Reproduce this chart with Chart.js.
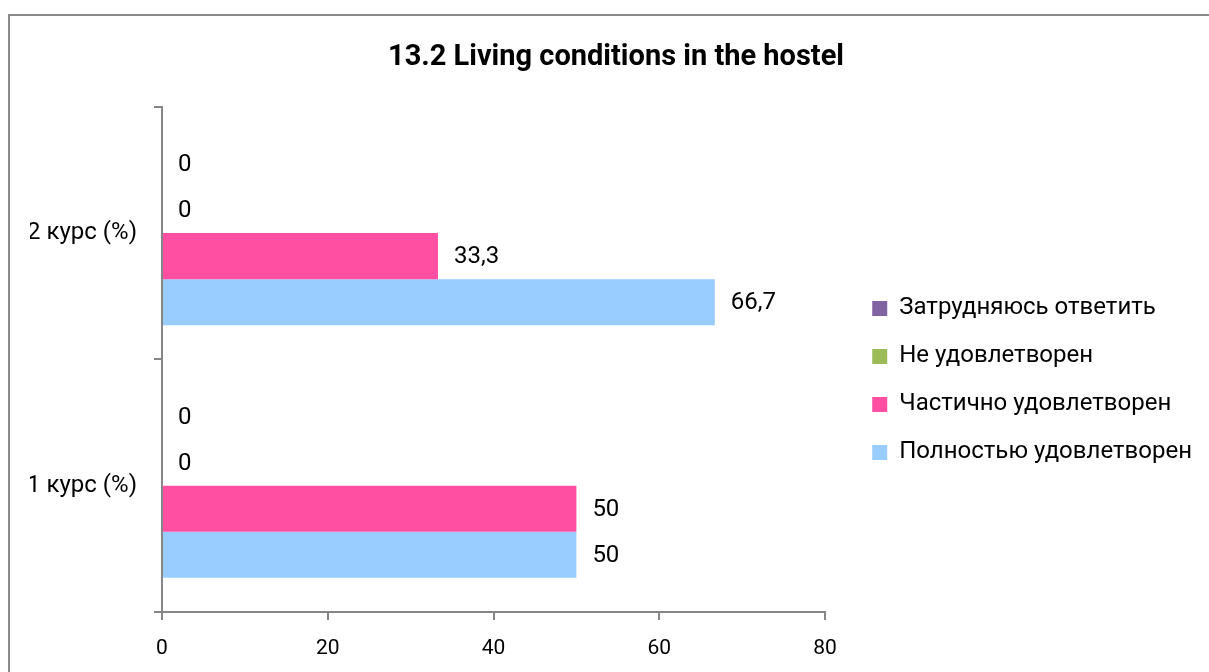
<!DOCTYPE html>
<html>
<head>
<meta charset="utf-8">
<title>13.2 Living conditions in the hostel</title>
<script src="https://cdn.jsdelivr.net/npm/chart.js@4.4.0/dist/chart.umd.min.js"></script>
<style>
    html, body { margin: 0; padding: 0; background: #ffffff; overflow: hidden; }
    #frame {
        position: absolute;
        left: 8px;
        top: 14px;
        width: 1220px;
        height: 680px;
        border-left: 2px solid #8a8a8a;
        border-top: 2px solid #8a8a8a;
    }
    #chartBox { position: absolute; left: 0; top: 0; width: 1199px; height: 656px; }
</style>
</head>
<body>
<div id="frame">
    <div id="chartBox"><canvas id="hostelChart"></canvas></div>
</div>
<script>
// Data
const categories = ['2 курс (%)', '1 курс (%)'];
const seriesNames = ['Затрудняюсь ответить', 'Не удовлетворен', 'Частично удовлетворен', 'Полностью удовлетворен'];
const hardToSay = [0, 0];
const notSatisfied = [0, 0];
const partlySatisfied = [33.3, 50];
const fullySatisfied = [66.7, 50];
const xTicks = [0, 20, 40, 60, 80];

// Colors
const PURPLE = '#8064a2';
const GREEN = '#9bbb59';
const PINK = '#ff4fa3';
const BLUE = '#99ccff';
const AXIS_GRAY = '#868686';
const FONT = 'Roboto';
const TEXT_SIZE = 24;

// Layout numbers
const PAD_RIGHT = 7;
const LEGEND_PAD = 24;
const LEGEND_BOX = 15;
const PLOT_RIGHT = 815;

// Draws the value next to the end of each bar (decimal comma)
const valueLabels = {
    id: 'valueLabels',
    afterDatasetsDraw(chart) {
        const ctx = chart.ctx;
        ctx.save();
        ctx.font = `${TEXT_SIZE}px ${FONT}`;
        ctx.fillStyle = '#000000';
        ctx.textAlign = 'left';
        ctx.textBaseline = 'middle';
        chart.data.datasets.forEach((ds, i) => {
            const meta = chart.getDatasetMeta(i);
            meta.data.forEach((bar, j) => {
                const text = String(ds.data[j]).replace('.', ',');
                ctx.fillText(text, bar.x + 16, bar.y + 1);
            });
        });
        ctx.restore();
    }
};

// Width of the empty space between the plot and the legend
function gapWidth(scale) {
    const ctx = scale.ctx;
    ctx.save();
    ctx.font = `${TEXT_SIZE}px ${FONT}`;
    const textW = Math.max(...seriesNames.map(n => ctx.measureText(n).width));
    ctx.restore();
    const legendW = LEGEND_PAD + LEGEND_BOX + TEXT_SIZE / 2 + textW + 10;
    return Math.max(0, scale.chart.width - PAD_RIGHT - legendW - PLOT_RIGHT);
}

function createChart() {
    const ctx = document.getElementById('hostelChart').getContext('2d');
    const values = [hardToSay, notSatisfied, partlySatisfied, fullySatisfied];
    const colors = [PURPLE, GREEN, PINK, BLUE];

    return new Chart(ctx, {
        type: 'bar',
        data: {
            labels: categories,
            datasets: seriesNames.map((name, i) => ({
                label: name,
                data: values[i],
                backgroundColor: colors[i],
                borderWidth: 0,
                yAxisID: 'y',
                categoryPercentage: 0.729,
                barPercentage: 1.0
            }))
        },
        options: {
            indexAxis: 'y',
            responsive: true,
            maintainAspectRatio: false,
            animation: false,
            layout: {
                padding: { left: 20, right: PAD_RIGHT, top: 0, bottom: 0 }
            },
            plugins: {
                title: {
                    display: true,
                    text: '13.2 Living conditions in the hostel',
                    color: '#000000',
                    font: { family: FONT, size: 29, weight: 'bold' },
                    padding: { top: 24, bottom: 32 }
                },
                legend: {
                    position: 'right',
                    align: 'center',
                    fullSize: false,
                    maxWidth: 500,
                    title: {
                        display: true,
                        text: '',
                        font: { size: 10 },
                        padding: { top: 30, bottom: 0 }
                    },
                    labels: {
                        boxWidth: LEGEND_BOX,
                        boxHeight: LEGEND_BOX,
                        padding: LEGEND_PAD,
                        color: '#000000',
                        font: { family: FONT, size: TEXT_SIZE }
                    }
                },
                tooltip: { enabled: false }
            },
            scales: {
                y: {
                    position: 'left',
                    offset: true,
                    grid: {
                        offset: true,
                        drawOnChartArea: false,
                        drawTicks: true,
                        tickLength: 8,
                        color: AXIS_GRAY,
                        lineWidth: 2
                    },
                    border: { color: AXIS_GRAY, width: 2 },
                    ticks: {
                        color: '#000000',
                        padding: 17,
                        font: { family: FONT, size: TEXT_SIZE }
                    },
                    afterFit(scale) { scale.width = 132; }
                },
                // empty axis that keeps the gap between the plot and the legend
                gap: {
                    axis: 'y',
                    type: 'category',
                    position: 'right',
                    grid: { display: false },
                    border: { display: false },
                    ticks: { display: false },
                    afterFit(scale) { scale.width = gapWidth(scale); }
                },
                x: {
                    min: 0,
                    max: 80,
                    afterBuildTicks(scale) {
                        scale.ticks = xTicks.map(v => ({ value: v }));
                    },
                    grid: {
                        drawOnChartArea: false,
                        drawTicks: true,
                        tickLength: 8,
                        color: AXIS_GRAY,
                        lineWidth: 2
                    },
                    border: { color: AXIS_GRAY, width: 2 },
                    ticks: {
                        color: '#000000',
                        padding: 16,
                        font: { family: FONT, size: 21 }
                    },
                    afterFit(scale) { scale.height = 60; }
                }
            }
        },
        plugins: [valueLabels]
    });
}

document.addEventListener('DOMContentLoaded', createChart);
</script>
</body>
</html>
